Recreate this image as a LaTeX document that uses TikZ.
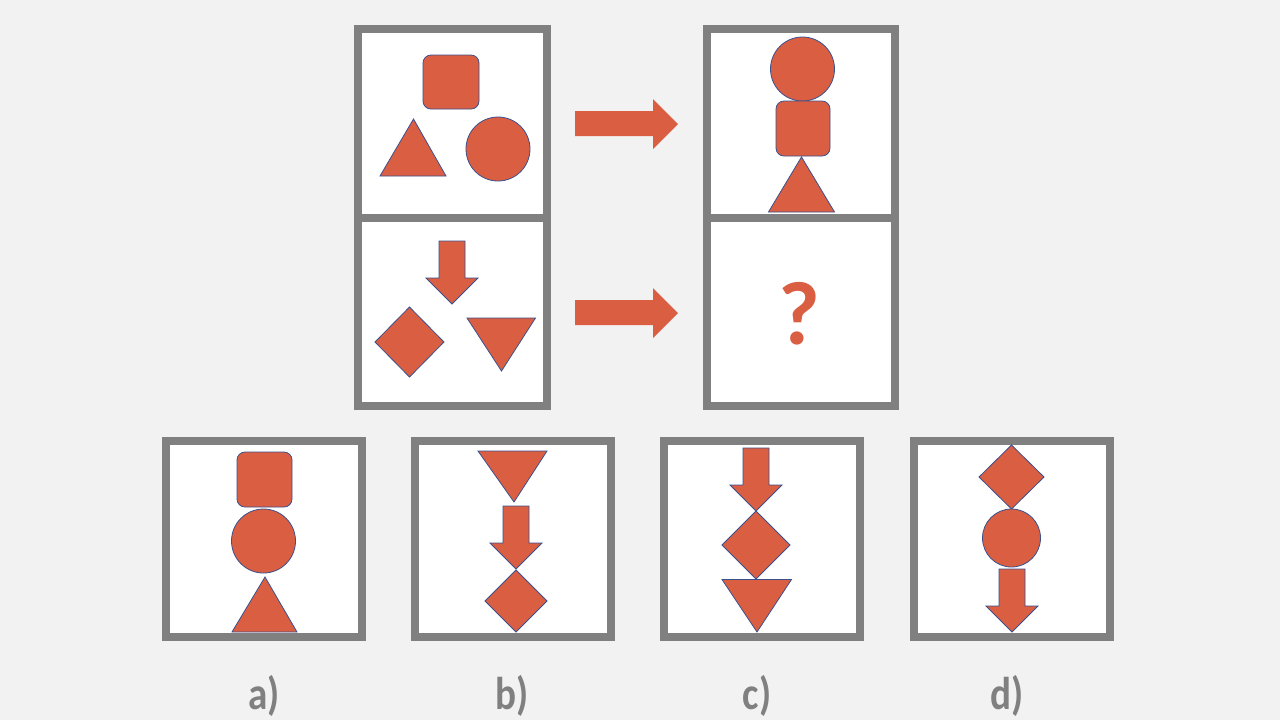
\documentclass[tikz,border=0pt]{standalone}
\usepackage{graphicx}
\usepackage{fontspec}
\setmainfont{Carlito}
\definecolor{orng}{RGB}{218,94,66}
\definecolor{outl}{RGB}{60,80,140}
\definecolor{bgc}{RGB}{242,242,242}
\definecolor{frm}{RGB}{128,128,128}
\begin{document}
\begin{tikzpicture}[x=0.5pt,y=-0.5pt,
  shp/.style={fill=orng,draw=outl,line width=0.4pt},
  frame/.style={draw=frm,line width=4pt,fill=white},
  bigarrow/.style={fill=orng},
  lbl/.style={text=frm,font=\bfseries\fontsize{23}{23}\selectfont},
  darr/.pic={\draw[shp] (-13,0) -- (13,0) -- (13,37) -- (26,37) -- (0,63) -- (-26,37) -- (-13,37) -- cycle;}]
\fill[bgc] (0,0) rectangle (1280,720);
\useasboundingbox (0,0) rectangle (1280,720);

% frames
\draw[frame] (358,29) rectangle (546.5,218);
\draw[frame] (358,218) rectangle (546.5,406);
\draw[frame] (707,29) rectangle (895,218);
\draw[frame] (707,218) rectangle (895,406);
\draw[frame] (166,441) rectangle (362,636.5);
\draw[frame] (415,441) rectangle (611,636.5);
\draw[frame] (664,441) rectangle (860,636.5);
\draw[frame] (914,441) rectangle (1110,636.5);

% big arrows
\fill[bigarrow] (575,111) -- (653,111) -- (653,99) -- (678,124) -- (653,149) -- (653,136) -- (575,136) -- cycle;
\fill[bigarrow] (575,300) -- (653,300) -- (653,288) -- (678,313) -- (653,338) -- (653,325) -- (575,325) -- cycle;

% top-left box
\draw[shp,rounded corners=4pt] (423,55) rectangle (479,109);
\draw[shp] (380,176) -- (446,176) -- (413.5,119) -- cycle;
\draw[shp] (498,149) circle[radius=32];

% top-right box
\draw[shp] (802.5,69) circle[radius=32];
\draw[shp,rounded corners=4pt] (776,101) rectangle (830,156);
\draw[shp] (768.5,212) -- (834.5,212) -- (801.5,157) -- cycle;

% bottom-left box
\pic at (452,241) {darr};
\draw[shp] (409.5,307) -- (444,342) -- (409.5,377) -- (375,342) -- cycle;
\draw[shp] (467,318) -- (535.5,318) -- (501.5,371) -- cycle;

% question
\node[text=orng,font=\bfseries\fontsize{45}{45}\selectfont] (q) at (799,314) {?};

% option a
\draw[shp,rounded corners=4pt] (237,452) rectangle (292,507);
\draw[shp] (263.5,541) circle[radius=32];
\draw[shp] (232,632) -- (297,632) -- (265,577) -- cycle;

% option b
\draw[shp] (478,451) -- (547,451) -- (514,502) -- cycle;
\pic at (516,506) {darr};
\draw[shp] (516,570) -- (547,601) -- (516,632) -- (485,601) -- cycle;

% option c
\pic at (756,448) {darr};
\draw[shp] (756,511) -- (790,545) -- (756,579) -- (722,545) -- cycle;
\draw[shp] (722,579.5) -- (791.5,579.5) -- (757,632) -- cycle;

% option d
\draw[shp] (1011.5,445) -- (1044,477) -- (1011.5,509) -- (979,477) -- cycle;
\draw[shp] (1011.5,538) circle[radius=29];
\pic at (1012,569) {darr};

% labels
\node[lbl] (la) at (264,696) {\scalebox{0.85}[1]{a)}};
\node[lbl] (lb) at (512,696) {\scalebox{0.85}[1]{b)}};
\node[lbl] (lc) at (757,696) {\scalebox{0.85}[1]{c)}};
\node[lbl] (ld) at (1007,696) {\scalebox{0.85}[1]{d)}};
\end{tikzpicture}
\end{document}
